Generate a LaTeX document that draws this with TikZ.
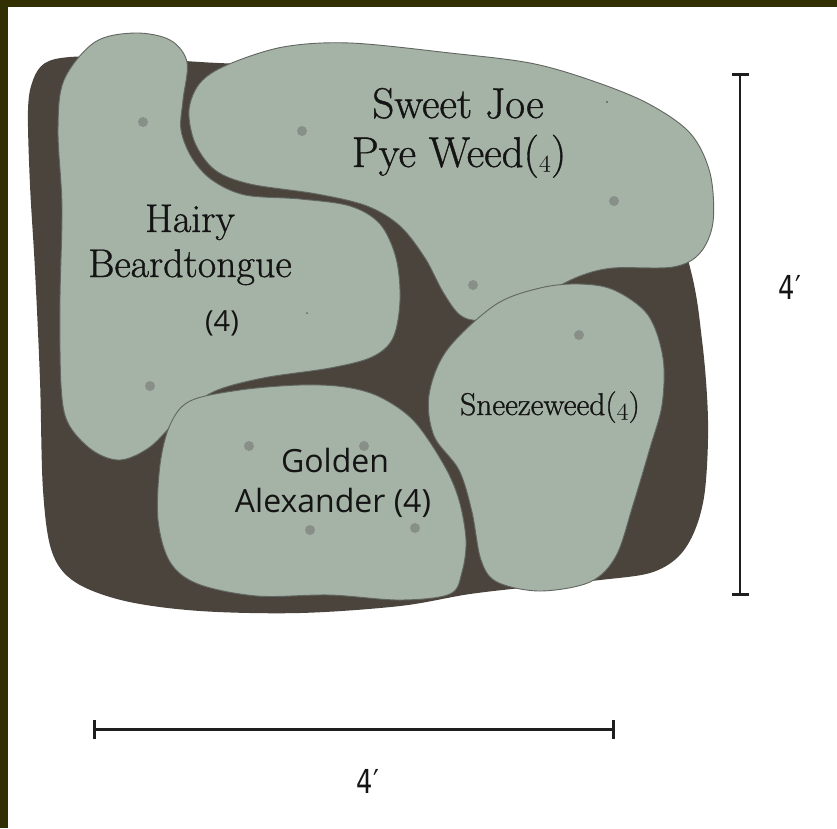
\documentclass[tikz,border=0pt]{standalone}
\usepackage{fontspec}
\usetikzlibrary{arrows.meta}
\newfontfamily\gasans{Open Sans}
\newfontfamily\gserif{Latin Modern Roman}[FakeBold=0.9]
\newfontfamily\dimfont{DejaVu Sans}[FakeStretch=0.78]
\newcommand\osfnum[1]{{\usefont{OML}{lmm}{m}{it}#1}}
\definecolor{frameolive}{RGB}{50,47,2}
\definecolor{soil}{RGB}{74,68,61}
\definecolor{sage}{RGB}{165,178,166}
\definecolor{edgegrey}{RGB}{98,102,97}
\definecolor{dotgrey}{RGB}{136,143,137}
\definecolor{ink}{RGB}{20,20,20}
\definecolor{barink}{RGB}{30,30,30}
\begin{document}
\begin{tikzpicture}[x=1pt,y=-1pt,
  bed/.style={fill=sage, draw=edgegrey, line width=0.9pt},
  plantdot/.style={fill=dotgrey},
  speck/.style={fill=edgegrey},
  seriflabel/.style={text=ink, anchor=base, inner sep=0pt},
  sanslabel/.style={text=ink, anchor=base, inner sep=0pt},
  dimbar/.style={draw=barink, line width=2.6pt},
  dimlabel/.style={text=ink, inner sep=0pt, font=\dimfont\fontsize{33}{38}\selectfont}]
\useasboundingbox (0,0) rectangle (837,828);
\fill[white] (0,0) rectangle (837,828);
\fill[frameolive] (0,0) rectangle (837,7);
\fill[frameolive] (0,0) rectangle (8,828);

% soil
\fill[soil] plot[smooth cycle, tension=0.55] coordinates {
 (45,63) (70,57) (120,57) (200,62) (400,75) (640,120) (688,260) (702,340)
 (708,420) (705,490) (695,530) (678,557) (650,573) (600,580) (540,586)
 (470,594) (400,606) (300,613) (200,611) (125,601) (75,582) (52,552)
 (43,490) (40,380) (35,270) (30,185) (28,110) (33,80)};

% Hairy Beardtongue
\filldraw[bed] plot[smooth cycle, tension=0.55] coordinates {
 (64,80) (95,42) (135,33) (170,40) (187,62) (183,100) (181,130) (192,158)
 (212,180) (245,195) (300,199) (350,206) (380,224) (396,258) (400,300)
 (393,338) (372,357) (330,368) (263,378) (213,392) (180,417) (150,447)
 (120,460) (92,450) (68,423) (61,385) (60,300) (62,207) (58,130)};

% Sweet Joe Pye Weed
\filldraw[bed] plot[smooth cycle, tension=0.55] coordinates {
 (200,83) (227,65) (283,47) (350,43) (450,53) (530,63) (590,80) (647,103)
 (690,133) (710,173) (713,222) (700,253) (673,267) (613,268) (580,276)
 (547,292) (513,308) (480,320) (460,315) (443,292) (425,258) (400,226)
 (367,206) (317,194) (250,184) (215,170) (195,143) (189,110)};

% Sneezeweed
\filldraw[bed] plot[smooth cycle, tension=0.55] coordinates {
 (579,284) (614,290) (648,315) (663,358) (662,405) (650,448) (633,505)
 (616,556) (590,582) (540,591) (497,582) (481,560) (472,512) (459,470)
 (434,436) (429,395) (447,350) (495,305) (540,288)};

% Golden Alexander
\filldraw[bed] plot[smooth cycle, tension=0.55] coordinates {
 (190,401) (240,390) (300,385) (345,387) (380,397) (414,421) (444,465)
 (459,500) (466,540) (462,572) (450,594) (400,600) (330,595) (257,596)
 (198,584) (170,562) (158,520) (160,465) (170,425)};

% plants
\foreach \p in {(143,122),(150,386),(302,131),(614,201),(473,285),(579,335),
                (249,446),(364,446),(310,530),(415,528)}
  \fill[plantdot] \p circle[radius=5pt];
\fill[speck] (607,102) circle[radius=1.2pt];
\fill[speck] (307,313) circle[radius=1pt];

% labels
\node[seriflabel, font=\gserif\fontsize{43}{50}\selectfont] (sj1) at (458,118) {Sweet Joe};
\node[seriflabel, font=\gserif\fontsize{43}{50}\selectfont] (sj2) at (459,167) {Pye Weed(\osfnum{4})};
\node[seriflabel, font=\gserif\fontsize{40}{46}\selectfont] (hb1) at (190,232) {Hairy};
\node[seriflabel, font=\gserif\fontsize{40}{46}\selectfont] (hb2) at (190,277) {Beardtongue};
\node[sanslabel, font=\gasans\fontsize{29}{36}\selectfont] (hb3) at (222,331) {(4)};
\node[sanslabel, font=\gasans\fontsize{32}{38}\selectfont] (ga1) at (335,472) {Golden};
\node[sanslabel, font=\gasans\fontsize{32}{38}\selectfont] (ga2) at (333,512) {Alexander (4)};
\node[seriflabel, font=\gserif\fontsize{31.5}{36}\selectfont] (sn) at (550,415) {Sneezeweed(\osfnum{4})};

% dimensions
\coordinate (vtop) at (740,73);
\coordinate (vbot) at (740,596);
\draw[dimbar, {Bar[width=17pt]}-{Bar[width=17pt]}] (vtop) -- (vbot);
\node[dimlabel] (vlab) at (790,287) {4′};
\coordinate (hleft) at (93,729);
\coordinate (hright) at (615,729);
\draw[dimbar, line width=3pt, {Bar[width=19pt]}-{Bar[width=19pt]}] (hleft) -- (hright);
\node[dimlabel] (hlab) at (368,781) {4′};
\end{tikzpicture}
\end{document}
